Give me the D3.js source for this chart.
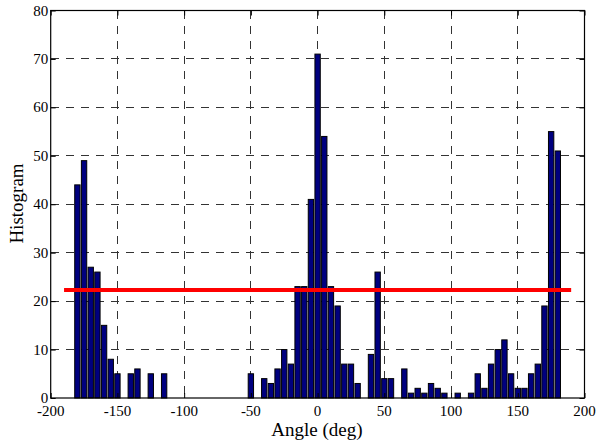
<!DOCTYPE html>
<html>
<head>
<meta charset="utf-8">
<script src="https://cdn.jsdelivr.net/npm/d3@7"></script>
<style>
  html, body { margin: 0; padding: 0; background: #fff; }
  svg { display: block; }
  text { font-family: "Liberation Serif", "Times New Roman", serif; fill: #000; }
</style>
</head>
<body>
<svg id="chart" width="598" height="444"></svg>
<script>
// ---- data ----
const binCenters = [-180,-175,-170,-165,-160,-155,-150,-145,-140,-135,-130,-125,-120,-115,-110,-105,-100,-95,-90,-85,-80,-75,-70,-65,-60,-55,-50,-45,-40,-35,-30,-25,-20,-15,-10,-5,0,5,10,15,20,25,30,35,40,45,50,55,60,65,70,75,80,85,90,95,100,105,110,115,120,125,130,135,140,145,150,155,160,165,170,175,180];
const counts = [44,49,27,26,15,8,5,0,5,6,0,5,0,5,0,0,0,0,0,0,0,0,0,0,0,0,5,0,4,3,6,10,7,23,23,41,71,54,23,19,7,7,3,0,9,26,4,4,0,6,1,2,1,3,2,1,0,1,0,1,5,2,7,10,12,5,2,2,5,7,19,55,51];
const xTicks = [-200,-150,-100,-50,0,50,100,150,200];
const yTicks = [0,10,20,30,40,50,60,70,80];
const refLevel = 22.3;
const refRange = [-190, 190];
const binWidth = 5;
const xLabel = "Angle (deg)";
const yLabel = "Histogram";

// ---- layout ----
const svg = d3.select("#chart");
const L = 50.7, R = 584.5, T = 10.5, B = 398;
const x = d3.scaleLinear().domain([-200, 200]).range([L, R]);
const y = d3.scaleLinear().domain([0, 80]).range([B, T]);

// grid
const grid = svg.append("g");
grid.selectAll("line.vg").data(xTicks.slice(1, -1)).join("line")
  .attr("x1", d => x(d)).attr("x2", d => x(d))
  .attr("y1", T).attr("y2", B)
  .attr("stroke", "#333").attr("stroke-width", 1)
  .attr("stroke-dasharray", "8,7").attr("shape-rendering", "crispEdges");
grid.selectAll("line.hg").data(yTicks.slice(1, -1)).join("line")
  .attr("x1", L).attr("x2", R)
  .attr("y1", d => y(d)).attr("y2", d => y(d))
  .attr("stroke", "#333").attr("stroke-width", 1)
  .attr("stroke-dasharray", "8,7").attr("shape-rendering", "crispEdges");

// bars
const bw = x(binWidth * 0.8) - x(0);
svg.append("g").selectAll("rect").data(binCenters.map((c, i) => ({c, v: counts[i]})).filter(d => d.v > 0))
  .join("rect")
  .attr("x", d => x(d.c) - bw / 2)
  .attr("width", bw)
  .attr("y", d => y(d.v))
  .attr("height", d => y(0) - y(d.v))
  .attr("fill", "#00007f")
  .attr("stroke", "#000")
  .attr("stroke-width", 1);

// reference line
svg.append("line")
  .attr("x1", x(refRange[0])).attr("x2", x(refRange[1]))
  .attr("y1", y(refLevel)).attr("y2", y(refLevel))
  .attr("stroke", "#ff0000").attr("stroke-width", 4);

// axes box
svg.append("rect").attr("x", L).attr("y", T).attr("width", R - L).attr("height", B - T)
  .attr("fill", "none").attr("stroke", "#000").attr("stroke-width", 1.2);

// axes with inner ticks (lines only; labels drawn as plain serif text)
const tickLen = 5;
function clean(g) { g.select(".domain").remove(); g.selectAll(".tick line").attr("stroke", "#000"); g.selectAll(".tick text").remove(); }
svg.append("g").attr("transform", `translate(0,${B})`).call(d3.axisBottom(x).tickValues(xTicks).tickSize(-tickLen)).call(clean);
svg.append("g").attr("transform", `translate(0,${T})`).call(d3.axisTop(x).tickValues(xTicks).tickSize(-tickLen)).call(clean);
svg.append("g").attr("transform", `translate(${L},0)`).call(d3.axisLeft(y).tickValues(yTicks).tickSize(-tickLen)).call(clean);
svg.append("g").attr("transform", `translate(${R},0)`).call(d3.axisRight(y).tickValues(yTicks).tickSize(-tickLen)).call(clean);

// tick labels
svg.append("g").selectAll("text").data(xTicks).join("text")
  .attr("x", d => x(d)).attr("y", B + 18)
  .attr("text-anchor", "middle").attr("font-size", 15)
  .text(d => String(d));
svg.append("g").selectAll("text").data(yTicks).join("text")
  .attr("x", L - 2.5).attr("y", d => y(d) + 5)
  .attr("text-anchor", "end").attr("font-size", 15)
  .text(d => String(d));

// titles
svg.append("text").attr("x", 317).attr("y", 436).attr("text-anchor", "middle")
  .attr("font-size", 19).text(xLabel);
svg.append("text").attr("transform", "translate(22.7,203.5) rotate(-90)")
  .attr("text-anchor", "middle").attr("font-size", 19).text(yLabel);
</script>
</body>
</html>
